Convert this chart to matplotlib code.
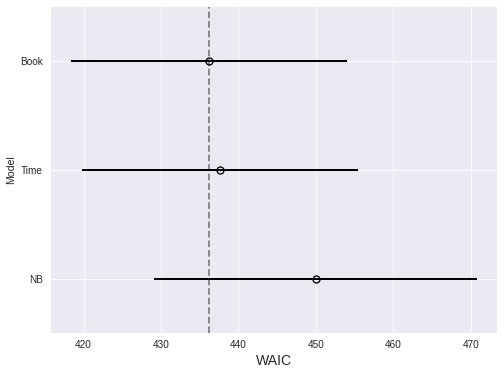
import numpy as np
import matplotlib
matplotlib.use("Agg")
import matplotlib.pyplot as plt

# model comparison values
models = ["NB", "Time", "Book"]
waic = [449.97, 437.6, 436.2]
waic_se = [20.9, 17.8, 17.8]
best = 436.2

plt.style.use("seaborn-v0_8-darkgrid")
plt.rcParams["font.family"] = ["Liberation Sans", "DejaVu Sans"]

fig, ax = plt.subplots(figsize=(7, 375 / 72), dpi=72)
fig.subplots_adjust(left=51 / 504, right=497 / 504, top=1 - 7 / 375, bottom=1 - 333 / 375)

ypos = np.arange(len(models))
ax.errorbar(waic, ypos, xerr=waic_se, fmt="o", color="k", mfc="none", mec="k",
            ms=7, mew=1.3, lw=2, capsize=0, zorder=3)
ax.axvline(best, ls="--", color="grey", lw=1.8, zorder=2)

ax.set_yticks(ypos)
ax.set_yticklabels(models)
ax.set_ylim(-0.5, len(models) - 0.5)
ax.set_xlim(415.8, 473.4)
ax.set_xticks([420, 430, 440, 450, 460, 470])
ax.tick_params(axis="x", labelsize=10, pad=7)
ax.tick_params(axis="y", labelsize=10, pad=8)
ax.set_xlabel("WAIC", fontsize=14, labelpad=4)
ax.set_ylabel("Model", fontsize=10.5, labelpad=4)

fig.savefig("out.png", dpi=72)
